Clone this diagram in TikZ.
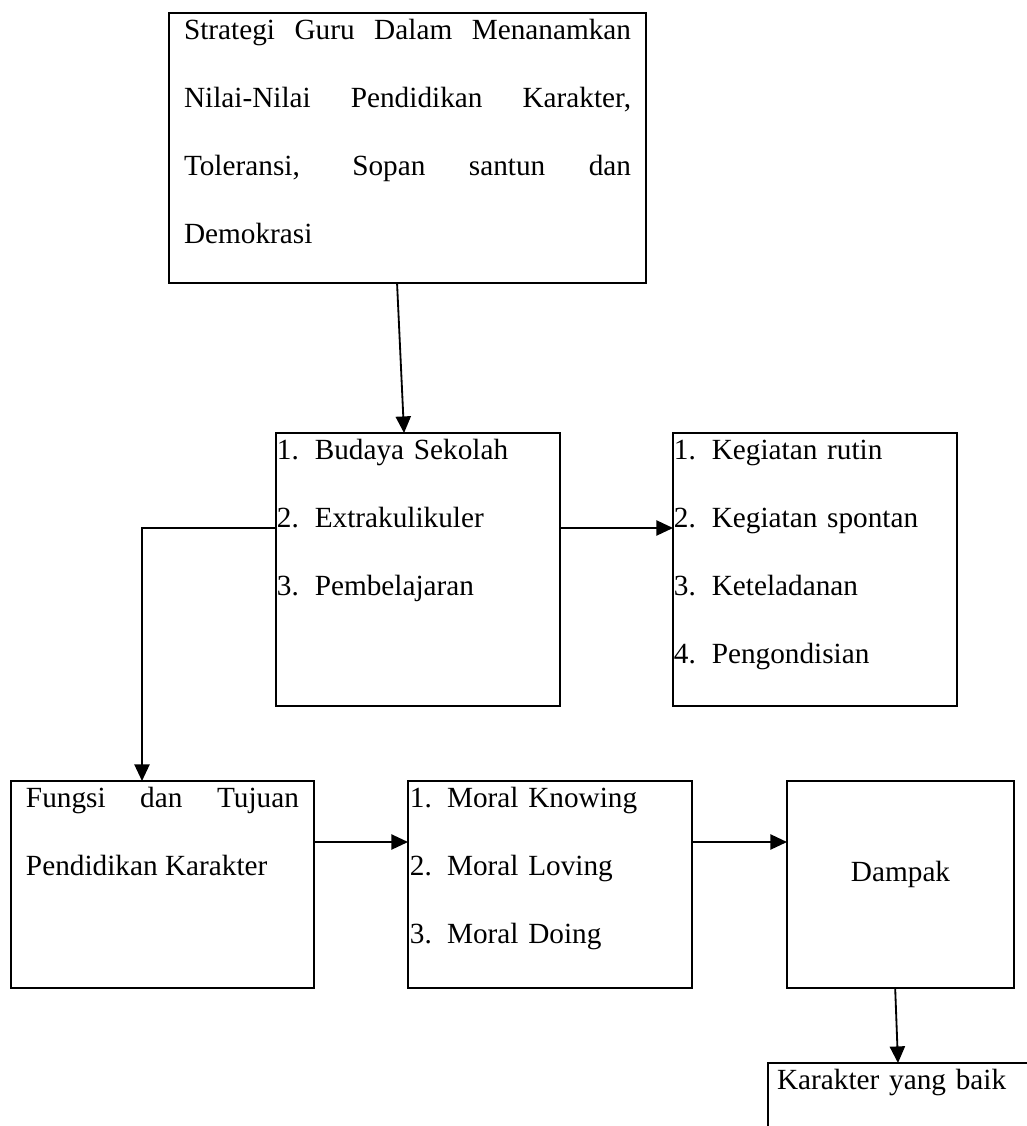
\documentclass[tikz,border=0pt]{standalone}
\usepackage{fontspec}
\setmainfont{Liberation Serif}
\usetikzlibrary{arrows.meta}
\tolerance=10000
\hbadness=10000
\newcommand{\butir}[2]{\makebox[15.5pt][l]{#1.}#2}
\begin{document}
\begin{tikzpicture}[x=0.41pt, y=-0.41pt,
    kotak/.style={draw, line width=0.9pt, anchor=north west, outer sep=0pt,
      inner ysep=0pt, text height=11pt,
      font=\fontsize{12pt}{27.8pt}\selectfont},
    panah/.style={-{Triangle[length=6.8pt, width=6.2pt]}, line width=0.75pt}]
  \useasboundingbox (0,0) rectangle (1027,1126);

  % Kotak atas
  \node[kotak, inner xsep=6.15pt, text width=183.3pt, text depth=99.7pt, align=justify] (strategi) at (169,13)
    {Strategi Guru Dalam Menanamkan\linebreak Nilai-Nilai Pendidikan Karakter,\linebreak Toleransi, Sopan santun dan\linebreak Demokrasi};

  % Baris tengah
  \node[kotak, inner xsep=0.4pt, text width=115.6pt, text depth=100.9pt, align=left] (budaya) at (276,433)
    {\butir{1}{Budaya Sekolah}\\\butir{2}{Extrakulikuler}\\\butir{3}{Pembelajaran}};
  \node[kotak, inner xsep=0.4pt, text width=115.6pt, text depth=100.9pt, align=left] (kegiatan) at (673,433)
    {\butir{1}{Kegiatan rutin}\\\butir{2}{Kegiatan spontan}\\\butir{3}{Keteladanan}\\\butir{4}{Pengondisian}};

  % Baris bawah
  \node[kotak, inner xsep=6.15pt, text width=111.9pt, text depth=73.9pt, align=justify] (fungsi) at (11,781)
    {Fungsi dan Tujuan\linebreak Pendidikan Karakter};
  \node[kotak, inner xsep=0.8pt, text width=114.8pt, text depth=73.9pt, align=left] (moral) at (408,781)
    {\makebox[15.2pt][l]{1.}Moral Knowing\\\makebox[15.2pt][l]{2.}Moral Loving\\\makebox[15.2pt][l]{3.}Moral Doing};
  \node[kotak, inner xsep=0pt, text width=93.1pt, text height=41.4pt, text depth=43.5pt, align=center] (dampak) at (787,781)
    {Dampak};
  \node[kotak, inner xsep=3.7pt, text width=150pt, text depth=40pt, align=left] (karakter) at (768,1063)
    {Karakter yang baik};

  % Panah
  \draw[panah] ([xshift=-4.3pt]strategi.south) -- ([xshift=-5.7pt]budaya.north);
  \draw[panah] (budaya.east |- 0,528) -- (kegiatan.west |- 0,528);
  \draw[panah] (budaya.west |- 0,528) -| (142,0 |- fungsi.north);
  \draw[panah] (fungsi.east |- 0,842) -- (moral.west |- 0,842);
  \draw[panah] (moral.east |- 0,842) -- (dampak.west |- 0,842);
  \draw[panah] ([xshift=-2.2pt]dampak.south) -- (898,0 |- karakter.north);
\end{tikzpicture}
\end{document}
